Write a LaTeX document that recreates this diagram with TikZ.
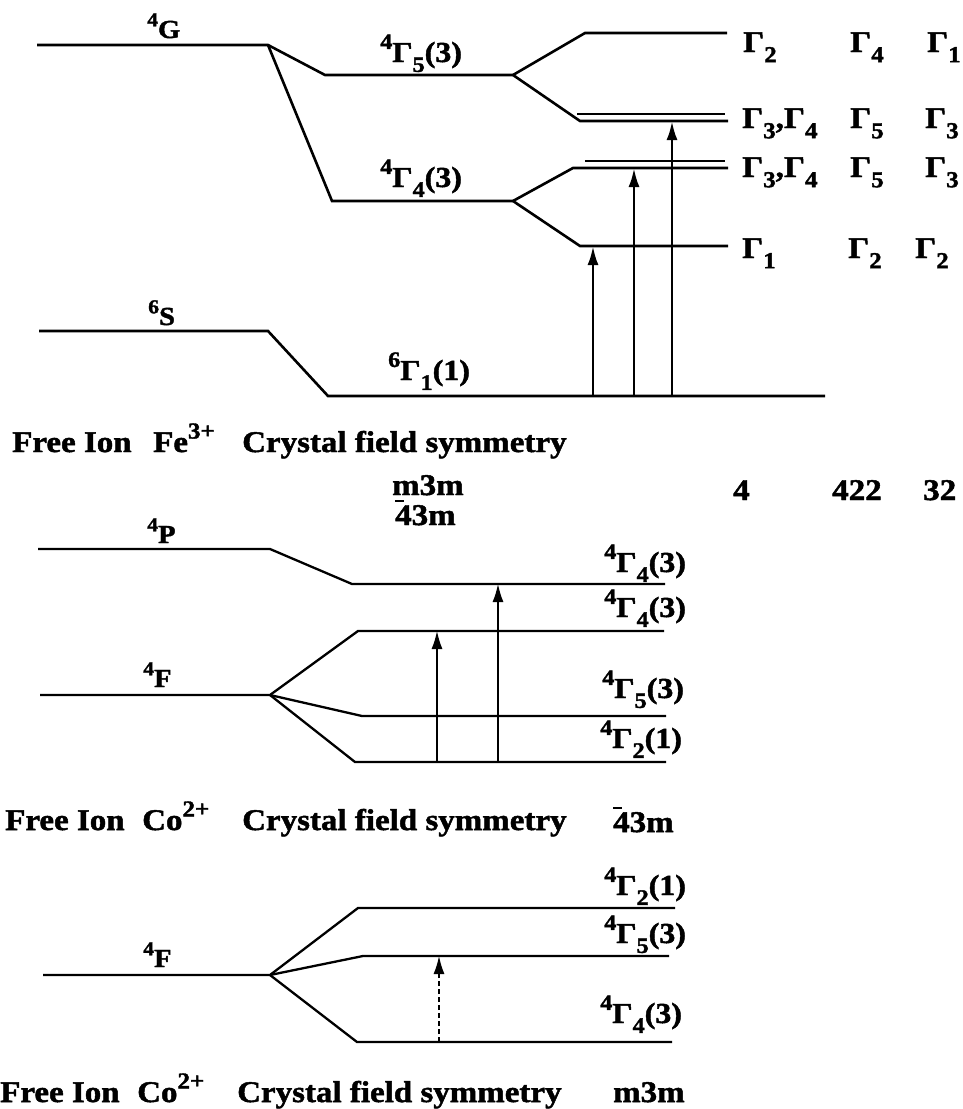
\documentclass[tikz,border=0pt]{standalone}
\usepackage{fontspec}
\setmainfont{Liberation Serif}[FakeStretch=1.1,BoldFeatures={FakeBold=1.6}]
\usepackage{graphicx}
\usetikzlibrary{arrows.meta}
\newcommand\up[1]{\raisebox{0.45em}{\scalebox{0.76}{#1}}}
\newcommand\dn[1]{\raisebox{-0.34em}{\scalebox{0.76}{#1}}}
\newcommand\barf{\makebox[0pt][l]{\raisebox{0.78em}{\rule{0.3em}{0.07em}}}4}
\tikzset{
  big/.style={inner sep=0pt,anchor=base west,font=\fontsize{30}{36}\selectfont\bfseries},
  mid/.style={inner sep=0pt,anchor=base west,font=\fontsize{29}{34}\selectfont\bfseries},
  sml/.style={inner sep=0pt,anchor=base west,font=\fontsize{26}{30}\selectfont\bfseries},
  lvl/.style={line width=2.6pt},
  lvlb/.style={line width=2.3pt},
  arrA/.style={line width=2.8pt,-{Latex[length=19pt,width=11pt]}},
  arrB/.style={line width=1.4pt,-{Latex[length=18pt,width=11pt]}},
  arrC/.style={line width=1.5pt,dashed,dash pattern=on 5pt off 3pt,-{Latex[length=18pt,width=11pt]}}
}
\begin{document}
\begin{tikzpicture}[x=1pt,y=-1pt]
\useasboundingbox (0,0) rectangle (962,1109);
% ---------- top: Fe3+ ----------
\coordinate (G0) at (37,45); \coordinate (G1) at (268,45);
\coordinate (G5a) at (325,75); \coordinate (G5b) at (513,75);
\coordinate (G4a) at (332,201); \coordinate (G4b) at (513,201);
\coordinate (T2a) at (585,33); \coordinate (T2b) at (727,33);
\coordinate (T34a) at (577,114); \coordinate (T34b) at (725,114);
\coordinate (T35a) at (580,121); \coordinate (T35b) at (728,121);
\coordinate (T36a) at (585,161); \coordinate (T36b) at (725,161);
\coordinate (T37a) at (573,168); \coordinate (T37b) at (728,168);
\coordinate (T1a) at (580,246); \coordinate (T1b) at (728,246);
\coordinate (S0) at (39,331); \coordinate (S1) at (268,331);
\coordinate (Ga) at (328,396); \coordinate (Gb) at (825,396);
\draw[lvl] (G0) -- (G1) -- (G5a) -- (G5b);
\draw[lvl] (G1) -- (G4a) -- (G4b);
\draw[lvl] (G5b) -- (T2a) -- (T2b);
\draw[lvl] (G5b) -- (T35a) -- (T35b);
\draw[lvl] (T34a) -- (T34b);
\draw[lvl] (G4b) -- (T37a) -- (T37b);
\draw[lvl] (T36a) -- (T36b);
\draw[lvl] (G4b) -- (T1a) -- (T1b);
\draw[lvl] (S0) -- (S1) -- (Ga) -- (Gb);
\coordinate (A1) at (593,396); \coordinate (A2) at (634,396); \coordinate (A3) at (672,396);
\draw[arrA] (A1) -- (A1 |- T1a);
\draw[arrA] (A2) -- (A2 |- T37a);
\draw[arrA] (A3) -- (A3 |- T35a);
\node[sml] (l4G) at (147,38) {\up{4}G};
\node[mid] (l45) at (380,62) {\up{4}Γ\dn{5}(3)};
\node[mid] (l44) at (380,187) {\up{4}Γ\dn{4}(3)};
\node[sml] (l6S) at (148,325) {\up{6}S};
\node[mid] (l61) at (388,380) {\up{6}Γ\dn{1}(1)};
\node[big] (r1a) at (743,52) {Γ\dn{2}};
\node[big] (r1b) at (850,52) {Γ\dn{4}};
\node[big] (r1c) at (927,52) {Γ\dn{1}};
\node[big] (r2a) at (742,128) {Γ\dn{3},Γ\dn{4}};
\node[big] (r2b) at (850,128) {Γ\dn{5}};
\node[big] (r2c) at (925,128) {Γ\dn{3}};
\node[big] (r3a) at (742,177) {Γ\dn{3},Γ\dn{4}};
\node[big] (r3b) at (850,177) {Γ\dn{5}};
\node[big] (r3c) at (925,177) {Γ\dn{3}};
\node[big] (r4a) at (742,258) {Γ\dn{1}};
\node[big] (r4b) at (848,258) {Γ\dn{2}};
\node[big] (r4c) at (915,258) {Γ\dn{2}};
\node[big] (f1) at (12,452) {Free Ion};
\node[big] (f2) at (153,452) {Fe\up{3+}};
\node[big] (f3) at (242,452) {Crystal field symmetry};
\node[big] (s1) at (392,495) {m3m};
\node[big] (s2) at (395,525) {\barf3m};
\node[big] (s3) at (733,500) {4};
\node[big] (s4) at (832,500) {422};
\node[big] (s5) at (923,500) {32};
% ---------- middle: Co2+ tetrahedral ----------
\coordinate (P0) at (38,549); \coordinate (P1) at (270,549);
\coordinate (P2) at (352,584); \coordinate (P3) at (665,584);
\coordinate (F0) at (40,695); \coordinate (F1) at (270,695);
\coordinate (L1a) at (358,631); \coordinate (L1b) at (664,631);
\coordinate (L2a) at (362,716); \coordinate (L2b) at (666,716);
\coordinate (L3a) at (355,762); \coordinate (L3b) at (666,762);
\draw[lvlb] (P0) -- (P1) -- (P2) -- (P3);
\draw[lvlb] (F0) -- (F1) -- (L1a) -- (L1b);
\draw[lvlb] (F1) -- (L2a) -- (L2b);
\draw[lvlb] (F1) -- (L3a) -- (L3b);
\coordinate (B1) at (437,762); \coordinate (B2) at (498,762);
\draw[arrB] (B1) -- (B1 |- L1a);
\draw[arrB] (B2) -- (B2 |- P2);
\node[sml] (l4P) at (147,543) {\up{4}P};
\node[sml] (l4F) at (143,687) {\up{4}F};
\node[mid] (m1) at (604,572) {\up{4}Γ\dn{4}(3)};
\node[mid] (m2) at (604,617) {\up{4}Γ\dn{4}(3)};
\node[mid] (m3) at (602,698) {\up{4}Γ\dn{5}(3)};
\node[mid] (m4) at (600,748) {\up{4}Γ\dn{2}(1)};
\node[big] (g1) at (5,830) {Free Ion};
\node[big] (g2) at (142,830) {Co\up{2+}};
\node[big] (g3) at (242,830) {Crystal field symmetry};
\node[big] (g4) at (613,832) {\barf3m};
% ---------- bottom: Co2+ octahedral ----------
\coordinate (H0) at (43,975); \coordinate (H1) at (270,975);
\coordinate (M1a) at (358,908); \coordinate (M1b) at (675,908);
\coordinate (M2a) at (363,956); \coordinate (M2b) at (669,956);
\coordinate (M3a) at (357,1042); \coordinate (M3b) at (672,1042);
\draw[lvlb] (H0) -- (H1) -- (M1a) -- (M1b);
\draw[lvlb] (H1) -- (M2a) -- (M2b);
\draw[lvlb] (H1) -- (M3a) -- (M3b);
\coordinate (C1) at (439,1042);
\draw[arrC] (C1) -- (C1 |- M2a);
\node[sml] (l4F2) at (143,967) {\up{4}F};
\node[mid] (n1) at (604,895) {\up{4}Γ\dn{2}(1)};
\node[mid] (n2) at (604,943) {\up{4}Γ\dn{5}(3)};
\node[mid] (n3) at (600,1023) {\up{4}Γ\dn{4}(3)};
\node[big] (h1) at (0,1102) {Free Ion};
\node[big] (h2) at (137,1102) {Co\up{2+}};
\node[big] (h3) at (237,1102) {Crystal field symmetry};
\node[big] (h4) at (613,1102) {m3m};
\end{tikzpicture}
\end{document}
